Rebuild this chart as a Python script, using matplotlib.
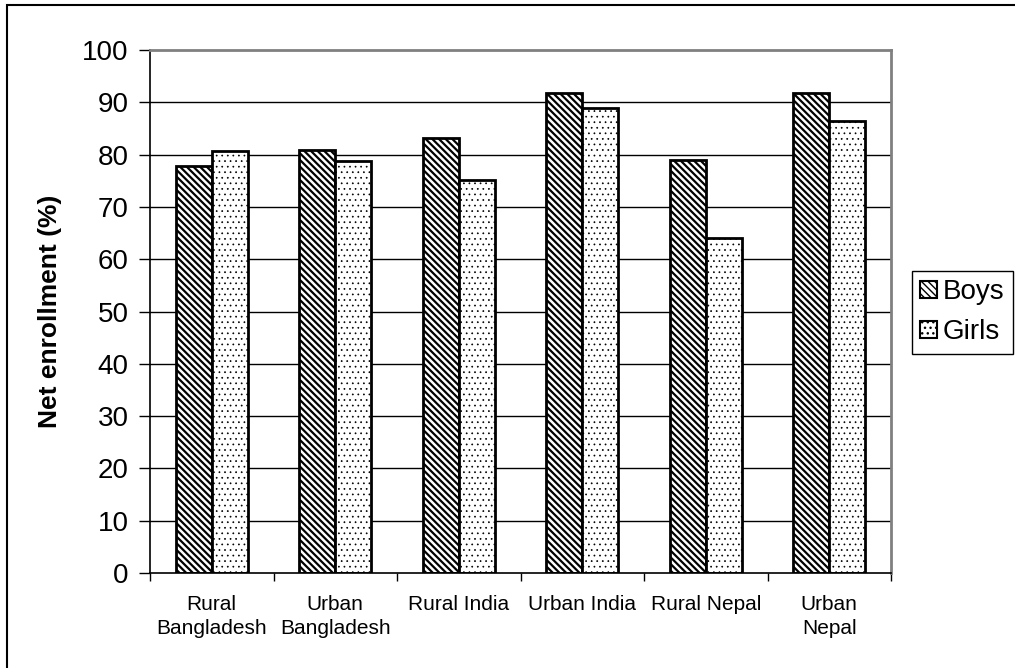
import matplotlib
matplotlib.use("Agg")
import matplotlib.pyplot as plt
from matplotlib.patches import Rectangle, Patch
import numpy as np

plt.rcParams['font.family'] = ['Liberation Sans', 'DejaVu Sans']
plt.rcParams['hatch.color'] = 'black'

categories = ["Rural\nBangladesh", "Urban\nBangladesh", "Rural India",
              "Urban India", "Rural Nepal", "Urban\nNepal"]
boys = [77.8, 80.9, 83.2, 91.7, 79.0, 91.7]
girls = [80.6, 78.8, 75.1, 89.0, 64.1, 86.5]
y_ticks = [0, 10, 20, 30, 40, 50, 60, 70, 80, 90, 100]

STRIPES = '\\' * 5
DOTS = '...'
STRIPE_LW = 1.6
DOT_LW = 0.5

W, H = 1015, 668
fig = plt.figure(figsize=(W / 100, H / 100), dpi=100)
ax = fig.add_axes([150 / W, 1 - 573 / H, (891 - 150) / W, (573 - 50) / H])

x = np.arange(len(categories))
bw = 0.29
with plt.rc_context({'hatch.linewidth': STRIPE_LW}):
    ax.bar(x - bw / 2, boys, bw, facecolor='white', edgecolor='black',
           linewidth=2.0, hatch=STRIPES, zorder=3)
    h_boys = Patch(facecolor='white', edgecolor='black', hatch=STRIPES, linewidth=1.5)
with plt.rc_context({'hatch.linewidth': DOT_LW}):
    ax.bar(x + bw / 2, girls, bw, facecolor='white', edgecolor='black',
           linewidth=2.0, hatch=DOTS, zorder=3)
    h_girls = Patch(facecolor='white', edgecolor='black', hatch=DOTS, linewidth=1.5)

ax.set_xlim(-0.5, len(categories) - 0.5)
ax.set_ylim(0, 100)
ax.set_yticks(y_ticks)
ax.set_yticklabels([str(v) for v in y_ticks], fontsize=20)
ax.tick_params(axis='y', direction='out', length=8, width=1, pad=7.5)

ax.set_xticks(x)
ax.set_xticklabels(categories, fontsize=15, linespacing=1.3, va='top')
ax.tick_params(axis='x', which='major', length=0, pad=16)
ax.set_xticks(np.arange(len(categories) + 1) - 0.5, minor=True)
ax.tick_params(axis='x', which='minor', direction='out', length=6, width=1)

for v in y_ticks[1:-1]:
    ax.axhline(v, color='black', linewidth=1.0, zorder=1)

ax.spines['left'].set_color('black')
ax.spines['left'].set_linewidth(1.2)
ax.spines['bottom'].set_color('black')
ax.spines['bottom'].set_linewidth(1.2)
ax.spines['bottom'].set_zorder(4)
for s in ('top', 'right'):
    ax.spines[s].set_color('#808080')
    ax.spines[s].set_linewidth(2)

ax.set_ylabel("Net enrollment (%)", fontsize=19, fontweight='bold')
ax.yaxis.set_label_coords((62 - 150) / (891 - 150), 0.5)

leg = fig.legend([h_boys, h_girls], ["Boys", "Girls"], loc='upper left',
                 bbox_to_anchor=(912 / W, 1 - 271 / H), fontsize=20,
                 frameon=True, fancybox=False, framealpha=1,
                 edgecolor='black', handlelength=0.6, handleheight=0.6,
                 handletextpad=0.2, labelspacing=0.5, borderpad=0.3,
                 borderaxespad=0)
leg.get_frame().set_linewidth(1.0)

# outer chart frame
fig.patches.append(Rectangle((7 / W, -0.1), 1.2, 1 - 5 / H + 0.1,
                             transform=fig.transFigure, fill=False,
                             edgecolor='black', linewidth=1.5))

fig.savefig("out.png", dpi=100)
